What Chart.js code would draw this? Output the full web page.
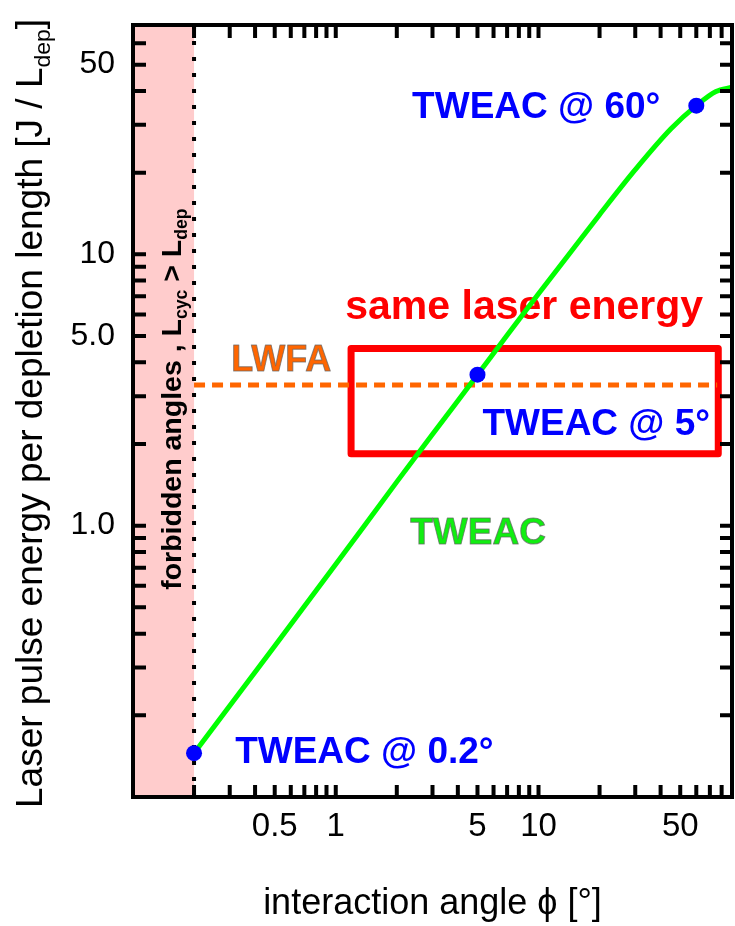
<!DOCTYPE html>
<html>
<head>
<meta charset="utf-8">
<script src="https://cdn.jsdelivr.net/npm/chart.js@4.4.1/dist/chart.umd.min.js"></script>
<style>
  html, body { margin: 0; padding: 0; background: #fff; }
  #wrap { width: 735px; height: 926px; }
</style>
</head>
<body>
<div id="wrap"><canvas id="chart" width="735" height="926"></canvas></div>
<script>
// TWEAC curve: interaction angle [deg] vs laser pulse energy per depletion length
const curveAngles = [0.2, 0.5, 1, 2, 3, 5, 7, 10, 15, 20, 30, 45, 60, 75, 90];
const curveEnergy = [0.145, 0.36, 0.72, 1.45, 2.17, 3.6, 5.03, 7.15, 10.6, 14.0, 20.5, 29.0, 35.3, 39.8, 41.3];

// marked TWEAC working points
const tweacAngles = [0.2, 5, 60];
const tweacEnergy = [0.145, 3.6, 35.3];

// LWFA reference level (dashed)
const lwfaAngles = [0.2, 76];
const lwfaEnergy = [3.3, 3.3];

// forbidden region and "same laser energy" box (data coords)
const forbiddenAngles = [0.1, 0.2];
const boxAngles = [1.19, 77];
const boxEnergy = [1.84, 4.5];

// axes
const xRange = [0.1, 90];
const yRange = [0.1, 70];
const xTickLabels = [0.5, 1, 5, 10, 50];
const yTickLabels = [1, 5, 10, 50];
const xMinorTicks = [0.2, 0.3, 0.4, 0.5, 0.6, 0.7, 0.8, 0.9, 1, 2, 3, 4, 5, 6, 7, 8, 9, 10, 20, 30, 40, 50, 60, 70, 80];
const yMinorTicks = [0.2, 0.3, 0.4, 0.5, 0.6, 0.7, 0.8, 0.9, 1, 2, 3, 4, 5, 6, 7, 8, 9, 10, 20, 30, 40, 50, 60];

const FONT = "'Liberation Sans', Arial, sans-serif";

// draws text made of normal + subscript pieces, starting at (0,0) on the baseline
function drawParts(ctx, parts, size, weight) {
  let x = 0;
  parts.forEach(p => {
    const s = p.sub ? size * 0.62 : size;
    ctx.font = `${weight} ${s}px ${FONT}`;
    ctx.fillText(p.t, x, p.sub ? size * 0.22 : 0);
    x += ctx.measureText(p.t).width;
  });
}

function label(ctx, xs, ys, text, at, color, size, outline) {
  const px = xs.getPixelForValue(at[0]);
  const py = ys.getPixelForValue(at[1]);
  ctx.font = `bold ${size}px ${FONT}`;
  ctx.textAlign = 'left';
  ctx.textBaseline = 'alphabetic';
  ctx.fillStyle = color;
  ctx.fillText(text, px, py);
  if (outline) {
    ctx.lineWidth = 1;
    ctx.strokeStyle = 'rgba(100,100,100,0.7)';
    ctx.strokeText(text, px, py);
  }
}

const decorPlugin = {
  id: 'decor',
  beforeDatasetsDraw(chart) {
    const ctx = chart.ctx;
    const {top, bottom} = chart.chartArea;
    const xs = chart.scales.x, ys = chart.scales.y;
    ctx.save();

    // forbidden angles band
    const f0 = xs.getPixelForValue(forbiddenAngles[0]);
    const f1 = xs.getPixelForValue(forbiddenAngles[1]);
    ctx.fillStyle = '#ffcccc';
    ctx.fillRect(f0, top, f1 - f0, bottom - top);

    // dotted boundary
    ctx.strokeStyle = '#000';
    ctx.lineWidth = 4;
    ctx.setLineDash([4, 12]);
    ctx.beginPath();
    ctx.moveTo(f1, top);
    ctx.lineTo(f1, bottom);
    ctx.stroke();
    ctx.setLineDash([]);

    // forbidden text (rotated, with subscripts)
    ctx.fillStyle = '#000';
    ctx.textBaseline = 'alphabetic';
    ctx.textAlign = 'left';
    ctx.translate(f1 - 13, ys.getPixelForValue(0.58));
    ctx.rotate(-Math.PI / 2);
    drawParts(ctx, [
      {t: 'forbidden angles , L'}, {t: 'cyc', sub: true},
      {t: ' > L'}, {t: 'dep', sub: true}
    ], 28.5, 'bold');
    ctx.restore();

    // same laser energy box
    ctx.save();
    const bx0 = xs.getPixelForValue(boxAngles[0]);
    const bx1 = xs.getPixelForValue(boxAngles[1]);
    const by0 = ys.getPixelForValue(boxEnergy[1]);
    const by1 = ys.getPixelForValue(boxEnergy[0]);
    ctx.strokeStyle = '#ff0000';
    ctx.lineWidth = 7;
    ctx.lineJoin = 'round';
    ctx.strokeRect(bx0, by0, bx1 - bx0, by1 - by0);

    label(ctx, xs, ys, 'same laser energy', [1.114, 5.76], '#ff0000', 41, false);
    label(ctx, xs, ys, 'LWFA', [0.305, 3.70], '#ff6600', 36, true);
    label(ctx, xs, ys, 'TWEAC', [2.33, 0.858], '#11ee11', 37, true);
    ctx.restore();
  },
  afterDraw(chart) {
    const ctx = chart.ctx;
    const {left, right, top, bottom} = chart.chartArea;
    const xs = chart.scales.x, ys = chart.scales.y;
    ctx.save();

    label(ctx, xs, ys, 'TWEAC @ 60°', [2.38, 31.7], '#0000ff', 37, false);
    label(ctx, xs, ys, 'TWEAC @ 5°', [5.29, 2.15], '#0000ff', 37, false);
    label(ctx, xs, ys, 'TWEAC @ 0.2°', [0.319, 0.1335], '#0000ff', 37, false);

    // inward ticks on all four sides
    ctx.strokeStyle = '#000';
    ctx.lineWidth = 4;
    ctx.beginPath();
    xMinorTicks.forEach(v => {
      const px = xs.getPixelForValue(v);
      ctx.moveTo(px, bottom); ctx.lineTo(px, bottom - 12);
      ctx.moveTo(px, top); ctx.lineTo(px, top + 13);
    });
    yMinorTicks.forEach(v => {
      const py = ys.getPixelForValue(v);
      ctx.moveTo(left, py); ctx.lineTo(left + 13, py);
      ctx.moveTo(right, py); ctx.lineTo(right - 12, py);
    });
    ctx.stroke();

    // frame
    ctx.lineWidth = 4;
    ctx.strokeRect(left, top, right - left, bottom - top);

    // y axis title with subscript
    ctx.fillStyle = '#000';
    ctx.textAlign = 'left';
    ctx.textBaseline = 'alphabetic';
    ctx.translate(42, 808);
    ctx.rotate(-Math.PI / 2);
    drawParts(ctx, [
      {t: 'Laser pulse energy per depletion length [J / L'},
      {t: 'dep', sub: true}, {t: ']'}
    ], 37, 'normal');
    ctx.restore();
  }
};

const ctx = document.getElementById('chart').getContext('2d');
new Chart(ctx, {
  type: 'scatter',
  data: {
    datasets: [
      {
        label: 'LWFA',
        order: 3,
        data: lwfaAngles.map((a, i) => ({x: a, y: lwfaEnergy[i]})),
        showLine: true,
        borderColor: '#ff6600',
        borderWidth: 5,
        borderDash: [11, 7],
        pointRadius: 0
      },
      {
        label: 'TWEAC',
        order: 2,
        data: curveAngles.map((a, i) => ({x: a, y: curveEnergy[i]})),
        showLine: true,
        borderColor: '#00ff00',
        borderWidth: 5,
        cubicInterpolationMode: 'monotone',
        pointRadius: 0
      },
      {
        label: 'TWEAC points',
        order: 1,
        data: tweacAngles.map((a, i) => ({x: a, y: tweacEnergy[i]})),
        pointBackgroundColor: '#0000ff',
        pointBorderColor: '#0000ff',
        pointRadius: 8,
        pointBorderWidth: 0
      }
    ]
  },
  options: {
    responsive: false,
    animation: false,
    devicePixelRatio: 1,
    layout: { autoPadding: false, padding: { top: 25, right: 3, left: 0, bottom: 0 } },
    plugins: {
      legend: { display: false },
      tooltip: { enabled: false }
    },
    scales: {
      x: {
        type: 'logarithmic',
        position: 'bottom',
        min: xRange[0],
        max: xRange[1],
        grid: { display: false, drawTicks: false },
        border: { display: false },
        afterBuildTicks: s => { s.ticks = xTickLabels.map(v => ({value: v})); },
        afterFit: s => { s.height = 129; s.paddingLeft = 0; s.paddingRight = 0; },
        ticks: {
          autoSkip: false,
          maxRotation: 0,
          padding: 10,
          color: '#000',
          font: { family: FONT, size: 33 },
          callback: v => String(v)
        },
        title: {
          display: true,
          text: 'interaction angle ϕ [°]',
          color: '#000',
          font: { family: FONT, size: 36 },
          padding: { top: 0, bottom: 0 }
        }
      },
      y: {
        type: 'logarithmic',
        position: 'left',
        min: yRange[0],
        max: yRange[1],
        grid: { display: false, drawTicks: false },
        border: { display: false },
        afterBuildTicks: s => { s.ticks = yTickLabels.map(v => ({value: v})); },
        afterFit: s => { s.width = 133; s.paddingTop = 0; s.paddingBottom = 0; },
        ticks: {
          autoSkip: false,
          padding: 18,
          color: '#000',
          font: { family: FONT, size: 32 },
          callback: v => (v < 10 ? Number(v).toFixed(1) : String(v))
        }
      }
    }
  },
  plugins: [decorPlugin]
});
</script>
</body>
</html>
